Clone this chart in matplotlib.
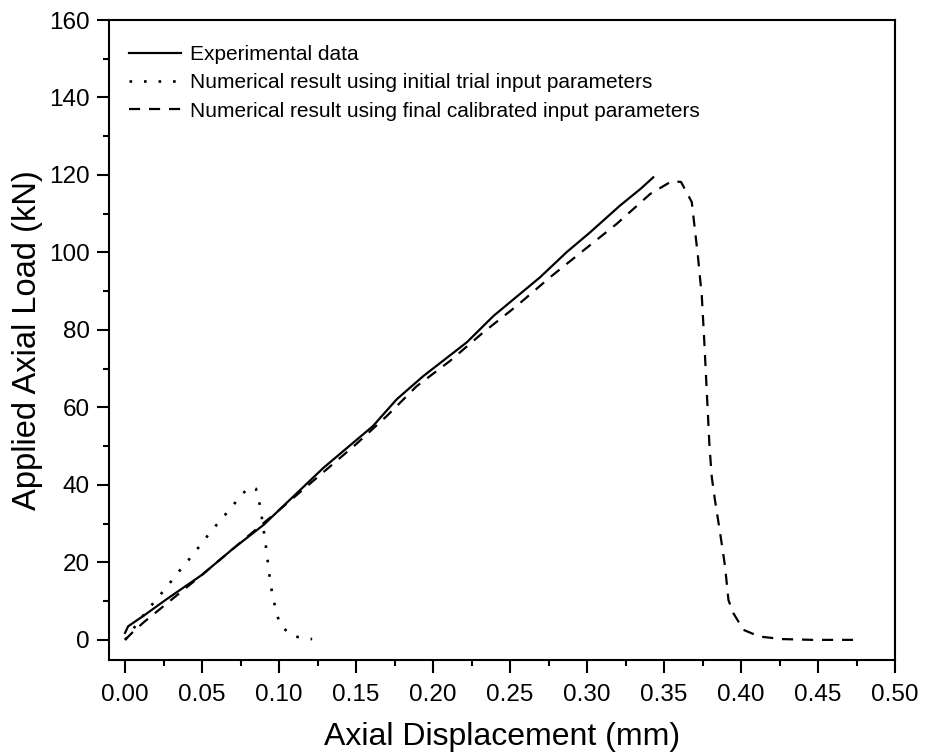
import numpy as np
import matplotlib.pyplot as plt
import matplotlib
from matplotlib.ticker import MultipleLocator, FormatStrFormatter

matplotlib.rcParams['font.family'] = ['Liberation Sans', 'DejaVu Sans']

# experimental curve
exp_x = [0.0, 0.002, 0.013, 0.027, 0.05, 0.07, 0.09, 0.1, 0.1288, 0.161, 0.1764,
         0.1937, 0.2219, 0.2392, 0.2695, 0.2868, 0.302, 0.3214, 0.335, 0.343]
exp_y = [1.8, 3.5, 6.5, 10.5, 16.8, 23.5, 29.7, 33.5, 44.4, 55.2, 62.1,
         68.1, 76.8, 83.6, 93.6, 100.1, 105.2, 112.1, 116.5, 119.4]

# numerical, initial trial parameters
init_x = [0.0, 0.006, 0.013, 0.020, 0.027, 0.034, 0.041, 0.048, 0.055, 0.062,
          0.0697, 0.0763, 0.082, 0.085, 0.0877, 0.0909, 0.0924, 0.0937,
          0.0952, 0.0976, 0.1006, 0.1084, 0.1197, 0.1215]
init_y = [0.0, 3.2, 6.9, 10.3, 13.6, 17.2, 20.5, 24.0, 27.6, 30.9,
          34.5, 37.8, 39.5, 39.0, 34.5, 25.9, 21.1, 16.8,
          12.8, 8.2, 3.9, 1.0, 0.25, 0.2]

# numerical, final calibrated parameters
final_x = [0.0, 0.005, 0.012, 0.05, 0.1, 0.15, 0.17, 0.1894, 0.211, 0.2327, 0.2543,
           0.276, 0.2976, 0.3193, 0.341, 0.355, 0.361, 0.364, 0.368, 0.370,
           0.372, 0.3745, 0.376, 0.378, 0.3795, 0.381, 0.383, 0.3864, 0.3896,
           0.3918, 0.395, 0.4015, 0.412, 0.427, 0.447, 0.4727]
final_y = [0.0, 2.0, 4.5, 16.8, 33.5, 50.5, 57.8, 65.5, 72.0, 79.4, 86.2,
           93.6, 100.5, 107.4, 115.1, 118.4, 118.2, 116.0, 113.0, 106.0,
           99.0, 88.8, 78.0, 62.0, 50.0, 42.0, 36.2, 27.6, 19.0,
           10.3, 6.9, 2.6, 0.85, 0.2, 0.0, 0.0]

fig = plt.figure(figsize=(9.28, 7.55), dpi=100)
ax = fig.add_axes([0.1175, 0.1258, 0.847, 0.8477])

ax.plot(exp_x, exp_y, color='black', lw=1.6, ls='-', label='Experimental data')
ax.plot(init_x, init_y, color='black', lw=1.9, ls=(0, (1, 4.5)),
        label='Numerical result using initial trial input parameters')
ax.plot(final_x, final_y, color='black', lw=1.6, ls=(0, (5, 4)),
        label='Numerical result using final calibrated input parameters')

ax.set_xlim(-0.0104, 0.5)
ax.set_ylim(-5.2, 160)
ax.xaxis.set_major_locator(MultipleLocator(0.05))
ax.xaxis.set_minor_locator(MultipleLocator(0.025))
ax.yaxis.set_major_locator(MultipleLocator(20))
ax.yaxis.set_minor_locator(MultipleLocator(10))
ax.xaxis.set_major_formatter(FormatStrFormatter('%.2f'))

for s in ax.spines.values():
    s.set_linewidth(1.5)
ax.tick_params(which='major', direction='out', length=9, width=1.5, labelsize=17.5, pad=5)
ax.tick_params(axis='x', which='major', pad=8)
ax.tick_params(which='minor', direction='out', length=4.5, width=1.5)

ax.set_xlabel('Axial Displacement (mm)', fontsize=23, labelpad=12)
ax.set_ylabel('Applied Axial Load (kN)', fontsize=23.5, labelpad=4)

ax.legend(loc='upper left', frameon=False, fontsize=15, handlelength=2.5,
          handletextpad=0.4, labelspacing=0.45, borderaxespad=0.3,
          bbox_to_anchor=(0.007, 0.984))

fig.savefig('out.png', dpi=100)
